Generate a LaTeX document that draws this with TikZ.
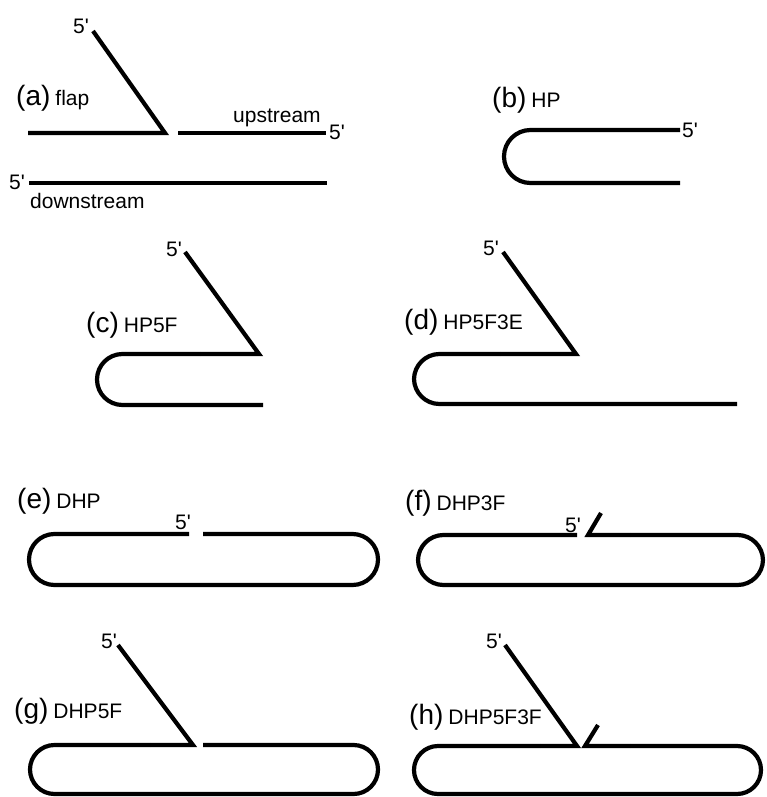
\documentclass[tikz,border=0pt]{standalone}
\usepackage{fontspec}
\setmainfont{Liberation Sans}
\newcommand\bigf{\fontsize{28}{32}\selectfont}
\newcommand\smf{\fontsize{21}{25}\selectfont}
\newcommand\plabel[2]{{\bigf(#1)}\hspace{5pt}{\smf #2}}
\newcommand\fp{5\textquotesingle}
\tikzset{
  strand/.style={line width=4.2pt, line cap=butt, line join=miter},
  tagtext/.style={anchor=west, inner sep=0pt},
  prime/.style={inner sep=0pt, font=\smf},
  word/.style={inner sep=0pt, font=\smf, anchor=base west}
}
\begin{document}
\begin{tikzpicture}[x=1pt, y=-1pt]
\useasboundingbox (0,0) rectangle (766,797);

% ---------------- (a) flap
\node[tagtext] (ta) at (16,98) {\plabel{a}{flap}};
\draw[strand] (93,31) -- (165,133) -- (28,133);
\draw[strand] (178,133) -- (326,133);
\draw[strand] (29,183) -- (327,183);
\node[prime] (pa1) at (81,26) {\fp};
\node[prime] (pa2) at (337,132) {\fp};
\node[prime] (pa3) at (17,182) {\fp};
\node[word] (up) at (233,122) {upstream};
\node[word] (down) at (30,208) {downstream};

% ---------------- (b) HP
\node[tagtext] (tb) at (492,100) {\plabel{b}{HP}};
\draw[strand, rounded corners=26.5pt] (680,130) -- (504,130) -- (504,183) -- (680,183);
\node[prime] (pb) at (690,130) {\fp};

% ---------------- (c) HP5F
\node[tagtext] (tc) at (86,325) {\plabel{c}{HP5F}};
\draw[strand] (185,252) -- (259,354) -- (200,354);
\draw[strand, rounded corners=25.5pt] (200,354) -- (97,354) -- (97,405) -- (263,405);
\node[prime] (pc) at (174,249) {\fp};

% ---------------- (d) HP5F3E
\node[tagtext] (td) at (404,322) {\plabel{d}{HP5F3E}};
\draw[strand] (503,252) -- (576,354) -- (500,354);
\draw[strand, rounded corners=25.5pt] (500,354) -- (414,354) -- (414,404) -- (737,404);
\node[prime] (pd) at (491,248) {\fp};

% ---------------- (e) DHP
\node[tagtext] (te) at (17,501) {\plabel{e}{DHP}};
\draw[strand, rounded corners=25.5pt] (189,534) -- (29,534) -- (29,585) -- (378,585) -- (378,534) -- (203,534);
\node[prime] (pe) at (183,522) {\fp};

% ---------------- (f) DHP3F
\node[tagtext] (tf) at (405,503) {\plabel{f}{DHP3F}};
\draw[strand, rounded corners=25.5pt] (577,535) -- (418,535) -- (418,585) -- (763,585) -- (763,535) -- (630,535);
\draw[strand] (630,535) -- (588,535) -- (601,513);
\node[prime] (pf) at (573,525) {\fp};

% ---------------- (g) DHP5F
\node[tagtext] (tg) at (14,711) {\plabel{g}{DHP5F}};
\draw[strand] (118,645) -- (193,745) -- (150,745);
\draw[strand, rounded corners=24.5pt] (150,745) -- (30,745) -- (30,794) -- (378,794) -- (378,745) -- (203,745);
\node[prime] (pg) at (109,641) {\fp};

% ---------------- (h) DHP5F3F
\node[tagtext] (th) at (409,717) {\plabel{h}{DHP5F3F}};
\draw[strand] (505,645) -- (577,746) -- (540,746);
\draw[strand, rounded corners=24pt] (540,746) -- (414,746) -- (414,794) -- (761,794) -- (761,746) -- (630,746);
\draw[strand] (630,746) -- (585,746) -- (598,725);
\node[prime] (ph) at (494,641) {\fp};
\end{tikzpicture}
\end{document}
